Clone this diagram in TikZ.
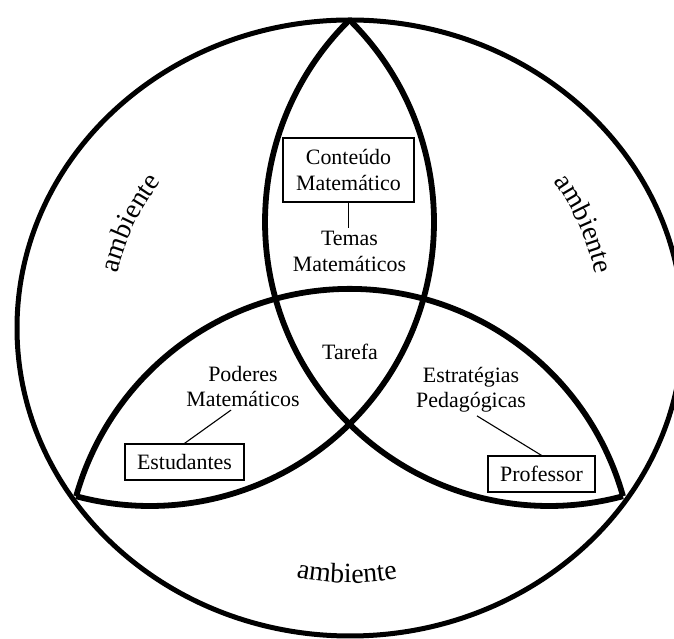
\documentclass[tikz,border=0pt]{standalone}
\usepackage{fontspec}
\setmainfont{Liberation Serif}
\usetikzlibrary{decorations.text}
\newcommand\ambfont{\fontsize{28}{30}\selectfont}
\begin{document}
\begin{tikzpicture}[x=1bp,y=1bp,
  ring/.style={line width=5bp},
  setarc/.style={line width=5.8bp},
  lbl/.style={font=\fontsize{22}{25.5}\selectfont, align=center, inner sep=3bp},
  box/.style={lbl, draw, line width=1.2bp, inner xsep=11bp, minimum height=36bp},
  link/.style={line width=1.1bp},
  envtext/.style={decorate, decoration={text along path, text align=center, text={|\ambfont|ambiente}}},
]
\useasboundingbox (0,0) rectangle (674,639);
\clip (0,0) rectangle (674,639);
\fill[white] (0,0) rectangle (674,639);

% the surrounding environment
\coordinate (O) at (350,311);
\draw[ring] (O) ellipse [x radius=333, y radius=308];

% three overlapping regions
\coordinate (T) at (349.5,619.1);
\coordinate (L) at (76,142.8);
\coordinate (R) at (623,142.8);
\draw[setarc] (T) arc[start angle=45.37, end angle=-105.1, radius=284];
\draw[setarc] (T) arc[start angle=134.63, end angle=285.1, radius=284];
\draw[setarc] (R) arc[start angle=15.68, end angle=164.32, radius=284];

% labels
\node[box, minimum width=131bp, minimum height=64bp] (cont) at (348.5,469) {Conteúdo\\Matemático};
\node[lbl] (temas) at (349.5,387.5) {Temas\\Matemáticos};
\node[lbl] (tarefa) at (350,287) {Tarefa};
\node[lbl] (poderes) at (243,252.5) {Poderes\\Matemáticos};
\node[lbl] (estrat) at (471,249) {Estratégias\\Pedagógicas};
\node[box, minimum width=119bp] (estud) at (184.5,177) {Estudantes};
\node[box, minimum width=107bp] (prof) at (541.5,165) {Professor};

\draw[link] (cont.south) -- (cont.south |- temas.north);
\draw[link] (poderes.243) -- (estud.north);
\draw[link] (estrat.283) -- (prof.north);

% environment labels along the ring
\path[envtext] ([shift={(184.5:239)}]O) arc[start angle=184.5, end angle=124.5, radius=239];
\path[envtext] ([shift={(54:251)}]O) arc[start angle=54, end angle=-6, radius=251];
\path[envtext] ([shift={(239.3:255)}]O) arc[start angle=239.3, end angle=299.3, radius=255];
\end{tikzpicture}
\end{document}
